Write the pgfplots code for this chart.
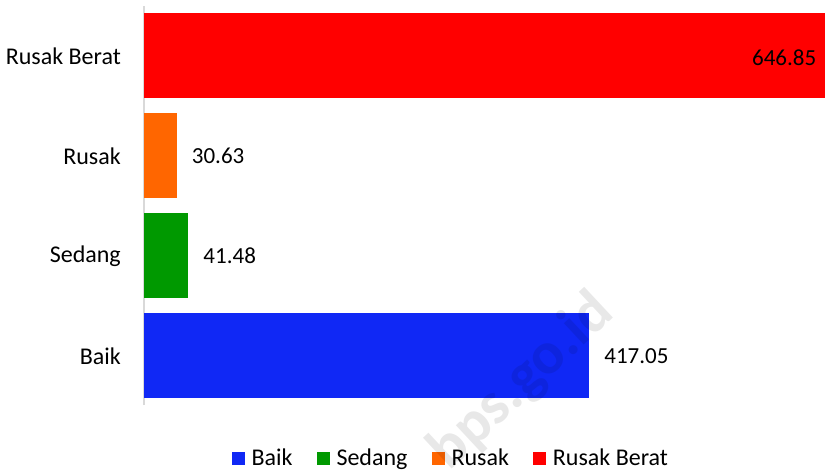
\documentclass[border=0pt]{standalone}
\usepackage{pgfplots}
\pgfplotsset{compat=1.18}
\usepackage{fontspec}
\setmainfont{Carlito}
\definecolor{cBaik}{RGB}{16,40,245}
\definecolor{cSedang}{RGB}{0,153,0}
\definecolor{cRusak}{RGB}{255,102,0}
\definecolor{cRB}{RGB}{255,0,0}
\definecolor{cAxis}{RGB}{217,217,217}
\begin{document}
\begin{tikzpicture}[font=\fontsize{24bp}{28bp}\selectfont]
\useasboundingbox (0,0) rectangle (825bp,472bp);
\begin{axis}[
  at={(144bp,67bp)}, anchor=south west,
  width=681bp, height=399bp, scale only axis,
  xbar, bar width=0.85, bar shift=0pt,
  xmin=0, xmax=638, ymin=-0.49, ymax=3.5,
  axis x line=none, axis y line=left,
  y axis line style={-, draw=cAxis, line width=1.7bp},
  ytick={0,1,2,3}, yticklabels={Baik,Sedang,Rusak,Rusak Berat},
  ytick style={draw=none}, major tick length=0pt,
  yticklabel style={inner sep=0pt, xshift=-23bp, font=\fontsize{24bp}{28bp}\selectfont},
  point meta=explicit symbolic,
  every node near coord/.append style={inner sep=0pt, anchor=west, xshift=15bp, text=black, font=\fontsize{23bp}{27bp}\selectfont},
  legend columns=4,
  legend style={draw=none, fill=none, at={(0.449,-0.133)}, anchor=center,
    font=\fontsize{24bp}{28bp}\selectfont,
    nodes={inner sep=0pt},
    /tikz/every odd column/.style={column sep=7bp},
    /tikz/every even column/.style={column sep=24bp}},
  legend image code/.code={\fill[#1] (0bp,-6.5bp) rectangle (13bp,6.5bp);},
]
\addplot[fill=cBaik, draw=none, nodes near coords] coordinates {(417.05,0) [417.05]};
\addlegendentry{Baik}
\addplot[fill=cSedang, draw=none, nodes near coords] coordinates {(41.48,1) [41.48]};
\addlegendentry{Sedang}
\addplot[fill=cRusak, draw=none, nodes near coords] coordinates {(30.63,2) [30.63]};
\addlegendentry{Rusak}
\addplot[fill=cRB, draw=none] coordinates {(646.85,3) [646.85]};
\addlegendentry{Rusak Berat}
\node[anchor=east, inner sep=0pt, xshift=-18bp, yshift=-2bp, font=\fontsize{23bp}{27bp}\selectfont] at (axis cs:646.85,3) {646.85};
\end{axis}
\node[rotate=43, text=black, text opacity=0.09, font=\bfseries\fontsize{60bp}{60bp}\selectfont] at (522bp,90bp) {bps.go.id};
\end{tikzpicture}
\end{document}
